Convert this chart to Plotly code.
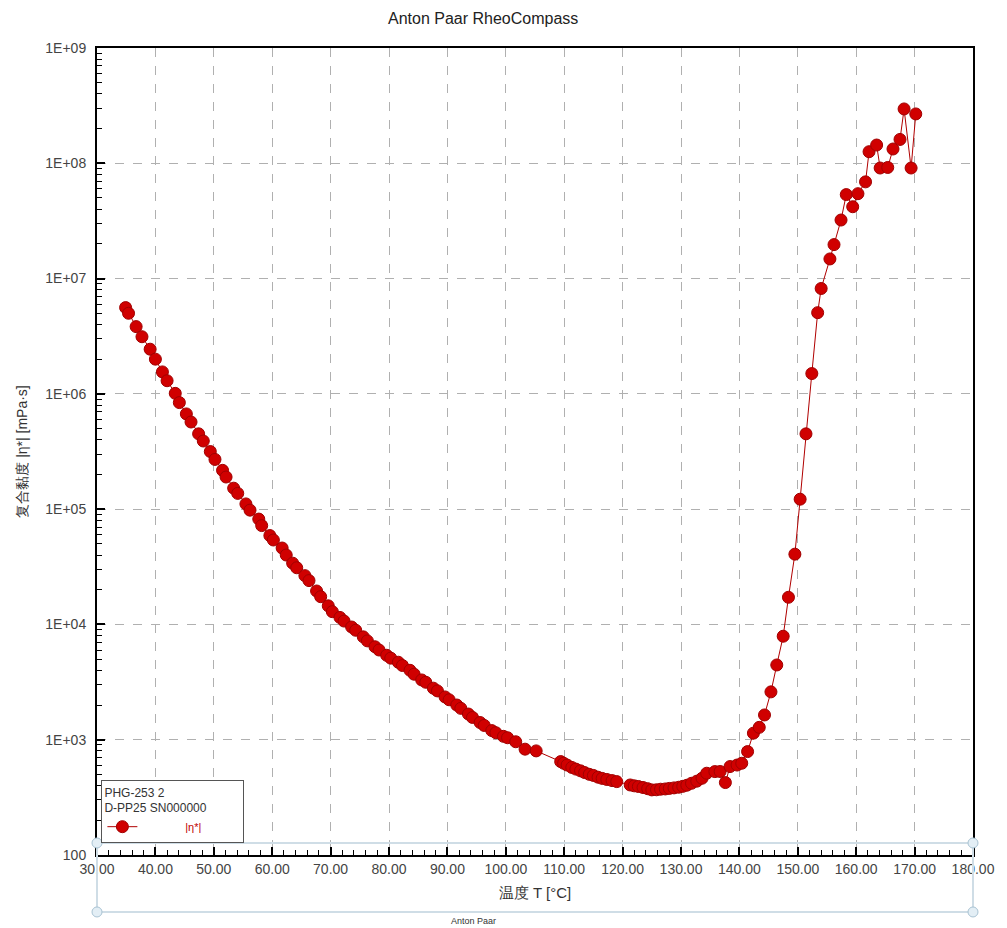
import plotly.graph_objects as go

# Temperature [°C]
temperature = [
    34.9, 35.4, 36.7, 37.7, 39.1, 40.0, 41.2, 42.0, 43.4, 44.1,
    45.3, 46.1, 47.4, 48.2, 49.4, 50.2, 51.5, 52.1, 53.4, 54.1,
    55.5, 56.2, 57.7, 58.2, 59.6, 60.2, 61.7, 62.4, 63.5, 64.2,
    65.6, 66.3, 67.6, 68.3, 69.6, 70.3, 71.6, 72.3, 73.6, 74.3,
    75.6, 76.3, 77.6, 78.3, 79.6, 80.3, 81.6, 82.3, 83.6, 84.3,
    85.6, 86.3, 87.6, 88.3, 89.6, 90.3, 91.6, 92.3, 93.6, 94.3,
    95.6, 96.3, 97.6, 98.3, 99.6, 100.3, 101.7, 103.3, 105.2, 109.4,
    109.9, 110.5, 111.3, 112.0, 112.8, 113.5, 114.3, 115.0, 115.8, 116.5,
    117.3, 118.2, 119.0, 121.3, 122.0, 122.7, 123.5, 124.3, 125.0, 125.8,
    126.5, 127.3, 128.0, 128.8, 129.6, 130.3, 131.0, 131.8, 132.7, 133.6,
    134.4, 135.8, 136.7, 137.6, 138.4, 139.6, 140.4, 141.4, 142.4, 143.4,
    144.3, 145.4, 146.4, 147.5, 148.4, 149.5, 150.4, 151.4, 152.4, 153.4,
    154.0, 155.5, 156.2, 157.4, 158.3, 159.4, 160.3, 161.6, 162.2, 163.5,
    164.1, 165.4, 166.3, 167.5, 168.2, 169.4, 170.2,
]

# Complex viscosity |eta*| [mPa·s]
complex_viscosity = [
    5.6e6, 5.0e6, 3.83e6, 3.13e6, 2.44e6, 2.0e6, 1.55e6, 1.30e6, 1.01e6, 8.4e5,
    6.7e5, 5.7e5, 4.5e5, 3.9e5, 3.16e5, 2.7e5, 2.17e5, 1.9e5, 1.52e5, 1.37e5,
    1.11e5, 9.8e4, 8.2e4, 7.2e4, 5.9e4, 5.4e4, 4.6e4, 4.0e4, 3.4e4, 3.1e4,
    2.65e4, 2.4e4, 1.95e4, 1.74e4, 1.45e4, 1.29e4, 1.15e4, 1.07e4, 9.5e3, 8.9e3,
    7.8e3, 7.2e3, 6.4e3, 6.0e3, 5.4e3, 5.1e3, 4.7e3, 4.4e3, 4.0e3, 3.7e3,
    3.3e3, 3.15e3, 2.8e3, 2.65e3, 2.35e3, 2.22e3, 2.0e3, 1.87e3, 1.67e3, 1.56e3,
    1.41e3, 1.33e3, 1.2e3, 1.15e3, 1.07e3, 1.04e3, 960, 828, 800, 646,
    625, 603, 575, 556, 537, 519, 501, 490, 473, 462,
    452, 442, 433, 405, 398, 393, 385, 376, 367, 368,
    372, 374, 378, 382, 387, 394, 403, 419, 437, 463,
    512, 529, 530, 425, 585, 603, 625, 789, 1140, 1280,
    1640, 2600, 4450, 7900, 1.72e4, 4.07e4, 1.22e5, 4.5e5, 1.5e6, 5.06e6,
    8.2e6, 1.48e7, 1.97e7, 3.22e7, 5.35e7, 4.2e7, 5.45e7, 6.9e7, 1.26e8, 1.44e8,
    9.1e7, 9.2e7, 1.33e8, 1.61e8, 2.96e8, 9.1e7, 2.68e8,
]

x_tick_values = [30, 40, 50, 60, 70, 80, 90, 100, 110, 120, 130, 140, 150, 160, 170, 180]
x_tick_labels = ["30.00", "40.00", "50.00", "60.00", "70.00", "80.00", "90.00", "100.00",
                 "110.00", "120.00", "130.00", "140.00", "150.00", "160.00", "170.00", "180.00"]
y_tick_values = [1e2, 1e3, 1e4, 1e5, 1e6, 1e7, 1e8, 1e9]
y_tick_labels = ["100", "1E+03", "1E+04", "1E+05", "1E+06", "1E+07", "1E+08", "1E+09"]

NBSP = "\u00a0"
fig = go.Figure()
fig.add_trace(go.Scatter(
    x=temperature, y=complex_viscosity, mode="lines+markers",
    name=NBSP * 14 + "<span style='color:#c00000'>|η*|</span>" + NBSP * 12,
    line=dict(color="#b00000", width=1),
    marker=dict(color="#d00000", size=12, line=dict(color="#a00000", width=1)),
))

font_family = "Liberation Sans, Arial, sans-serif"
fig.update_layout(
    width=1007, height=928,
    margin=dict(l=97, r=32, t=48, b=73),
    paper_bgcolor="white", plot_bgcolor="white",
    font=dict(family=font_family, size=13, color="#333333"),
    showlegend=True,
    legend=dict(
        x=0.005, y=0.0149, xanchor="left", yanchor="bottom",
        bgcolor="white", bordercolor="#555555", borderwidth=1,
        font=dict(size=11, color="#c00000"),
        title=dict(text="PHG-253 2<br>D-PP25 SN000000", font=dict(size=12, color="#333333"), side="top"),
        itemsizing="trace",
    ),
    xaxis=dict(
        range=[30, 180], tickmode="array", tickvals=x_tick_values, ticktext=x_tick_labels,
        showline=True, linecolor="black", linewidth=2, mirror=True,
        ticks="inside", ticklen=8, tickcolor="black", tickwidth=2,
        minor=dict(dtick=2, ticks="inside", ticklen=5, tickcolor="black", tickwidth=1, showgrid=False),
        showgrid=True, gridcolor="#b0b0b0", griddash="dash", gridwidth=1,
        zeroline=False,
        tickfont=dict(size=14, color="#444444"),
        title=dict(text="温度 T [°C]", font=dict(size=15, color="#333333"), standoff=12),
    ),
    yaxis=dict(
        type="log", range=[2, 9], tickmode="array", tickvals=y_tick_values, ticktext=y_tick_labels,
        showline=True, linecolor="black", linewidth=2, mirror=True,
        ticks="inside", ticklen=8, tickcolor="black", tickwidth=2,
        minor=dict(dtick="D1", ticks="inside", ticklen=5, tickcolor="black", tickwidth=1, showgrid=False),
        showgrid=True, gridcolor="#b0b0b0", griddash="dash", gridwidth=1,
        zeroline=False,
        tickfont=dict(size=14, color="#444444"),
        ticklabelstandoff=6,
        title=dict(text="复合黏度 |η*| [mPa·s]", font=dict(size=14, color="#333333"), standoff=14),
    ),
    annotations=[
        dict(text="Anton Paar RheoCompass", xref="paper", yref="paper", x=0.441, y=1.037,
             showarrow=False, font=dict(size=16, color="#222222"), xanchor="center", yanchor="middle"),
        dict(text="Anton Paar", xref="paper", yref="paper", x=0.430, y=-0.0818,
             showarrow=False, font=dict(size=9, color="#333333"), xanchor="center", yanchor="middle"),
    ],
    shapes=[
        dict(type="rect", xref="paper", yref="paper", x0=0, x1=1, y0=-0.0706, y1=0.0149,
             line=dict(color="#cfdde6", width=2), fillcolor="rgba(0,0,0,0)", layer="above"),
    ] + [
        dict(type="circle", xref="paper", yref="paper", xsizemode="pixel", ysizemode="pixel",
             xanchor=cx, yanchor=cy, x0=-5, x1=5, y0=-5, y1=5,
             line=dict(color="#a9c3d3", width=1), fillcolor="#e3eef5", layer="above")
        for cx in (0, 1) for cy in (-0.0706, 0.0149)
    ],
)

fig.write_html("out.html")
